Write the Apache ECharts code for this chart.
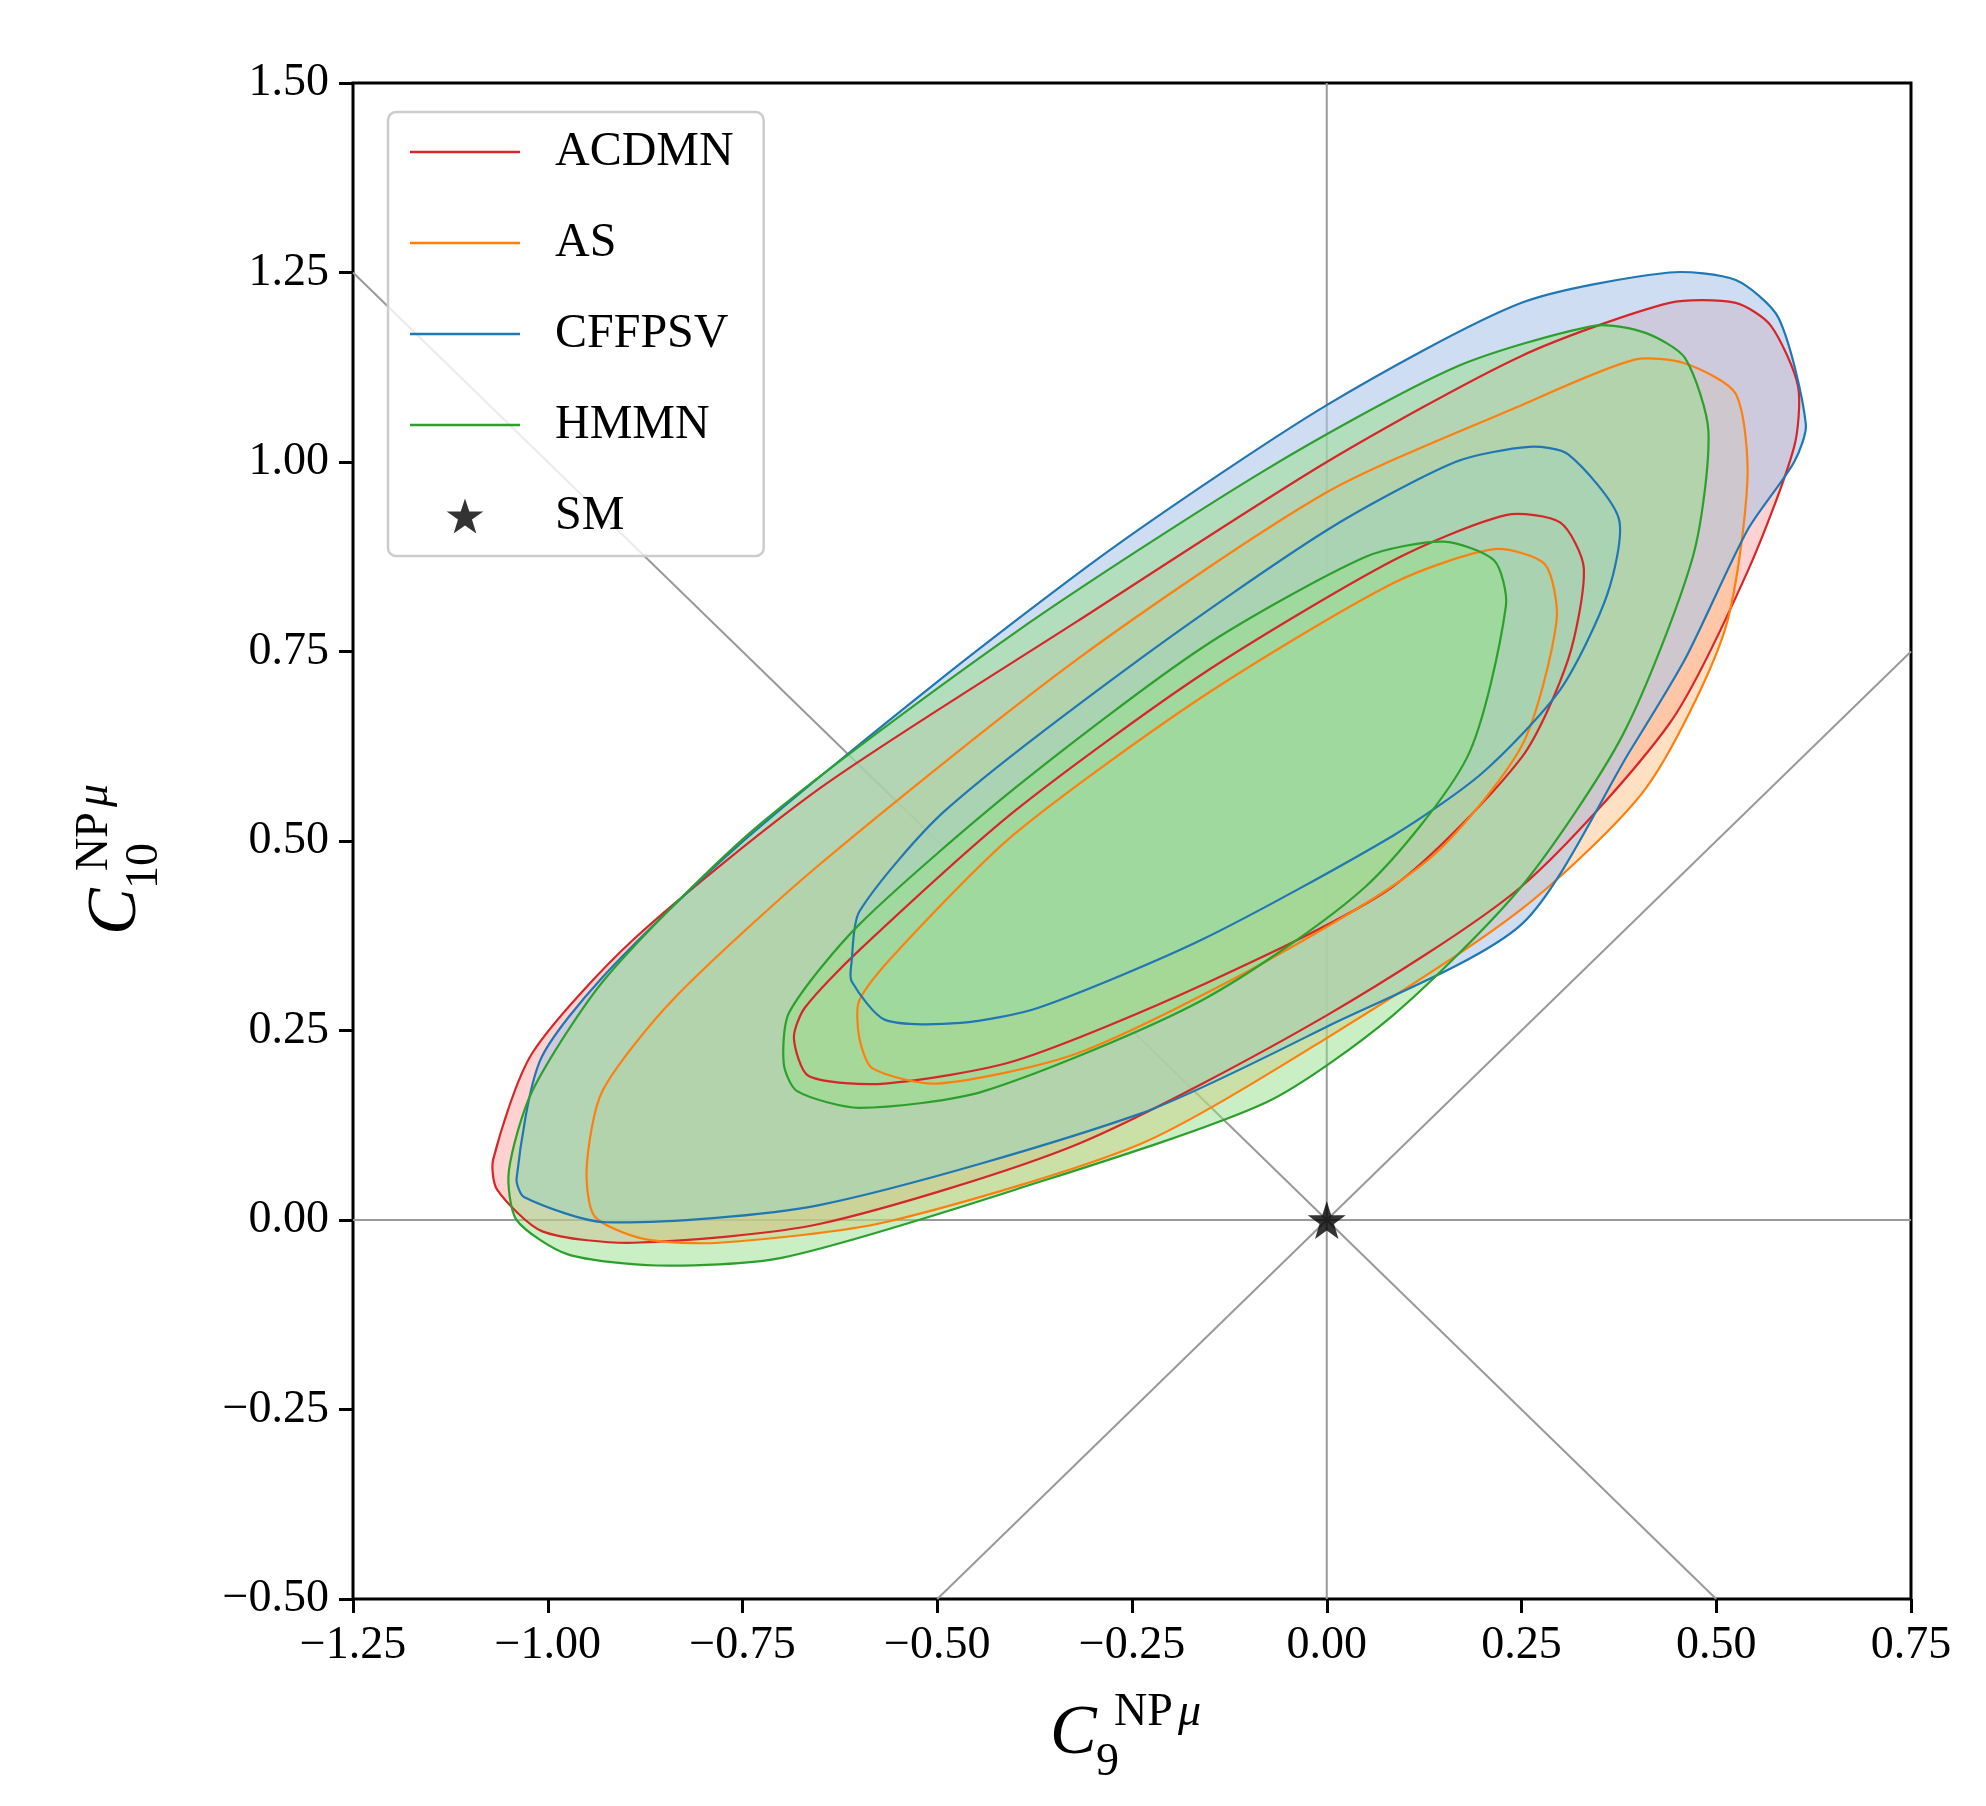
<!DOCTYPE html>
<html>
<head>
<meta charset="utf-8">
<script src="https://cdn.jsdelivr.net/npm/echarts@6/dist/echarts.min.js"></script>
<style>html,body{margin:0;padding:0;background:#fff}#main{width:1986px;height:1806px}</style>
</head>
<body>
<div id="main"></div>
<script>
// contour polygons, [C9, C10]
var acdmnOuter = [[-1.07,0.08],[-1.065,0.04],[-1.007,-0.015],[-0.89,-0.03],[-0.65,-0.005],[-0.32,0.10],[0.0,0.27],[0.25,0.44],[0.44,0.655],[0.54,0.855],[0.60,1.02],[0.605,1.1],[0.57,1.18],[0.525,1.21],[0.44,1.21],[0.25,1.14],[0.0,1.0],[-0.32,0.79],[-0.65,0.57],[-0.89,0.37],[-1.02,0.22]];
var acdmnInner = [[-0.684,0.24],[-0.665,0.19],[-0.567,0.18],[-0.40,0.21],[-0.16,0.31],[0.085,0.44],[0.25,0.61],[0.31,0.74],[0.33,0.86],[0.30,0.92],[0.23,0.93],[0.085,0.87],[-0.16,0.72],[-0.40,0.54],[-0.60,0.356],[-0.67,0.28]];
var asOuter = [[-0.95,0.07],[-0.94,0.005],[-0.877,-0.025],[-0.78,-0.03],[-0.567,-0.003],[-0.24,0.10],[0.0,0.24],[0.25,0.41],[0.41,0.57],[0.51,0.775],[0.54,0.975],[0.525,1.09],[0.46,1.13],[0.395,1.135],[0.25,1.075],[0.0,0.96],[-0.32,0.74],[-0.65,0.47],[-0.84,0.29],[-0.93,0.17]];
var asInner = [[-0.60,0.24],[-0.583,0.20],[-0.50,0.18],[-0.32,0.22],[-0.08,0.34],[0.13,0.475],[0.25,0.625],[0.295,0.79],[0.28,0.865],[0.215,0.885],[0.085,0.84],[-0.16,0.69],[-0.40,0.51],[-0.55,0.356],[-0.60,0.29]];
var cffpsvOuter = [[-1.04,0.055],[-1.03,0.03],[-0.926,-0.003],[-0.65,0.02],[-0.24,0.14],[0.0,0.255],[0.25,0.39],[0.39,0.62],[0.46,0.74],[0.54,0.91],[0.60,1.0],[0.615,1.05],[0.58,1.19],[0.525,1.24],[0.44,1.25],[0.25,1.21],[0.0,1.075],[-0.27,0.89],[-0.50,0.71],[-0.76,0.49],[-0.93,0.32],[-1.01,0.21]];
var cffpsvInner = [[-0.61,0.315],[-0.567,0.264],[-0.47,0.26],[-0.37,0.28],[-0.16,0.37],[0.085,0.507],[0.20,0.59],[0.30,0.70],[0.36,0.825],[0.375,0.925],[0.31,1.01],[0.26,1.02],[0.165,1.0],[0.0,0.91],[-0.24,0.74],[-0.49,0.54],[-0.60,0.407],[-0.61,0.34]];
var hmmnOuter = [[-1.05,0.064],[-1.04,0.0],[-0.975,-0.045],[-0.86,-0.06],[-0.70,-0.05],[-0.40,0.04],[-0.078,0.155],[0.085,0.27],[0.25,0.44],[0.38,0.64],[0.47,0.875],[0.49,1.04],[0.46,1.137],[0.41,1.17],[0.345,1.18],[0.165,1.125],[-0.078,0.99],[-0.40,0.775],[-0.73,0.52],[-0.925,0.32],[-1.02,0.17]];
var hmmnInner = [[-0.697,0.206],[-0.68,0.17],[-0.60,0.148],[-0.44,0.17],[-0.16,0.29],[0.05,0.44],[0.18,0.61],[0.23,0.81],[0.215,0.87],[0.15,0.895],[0.05,0.875],[-0.16,0.755],[-0.40,0.57],[-0.60,0.39],[-0.69,0.274]];
var smPoint = [[0, 0]];
var diagDown = [[-1.25, 1.25], [0.5, -0.5]];
var diagUp = [[-0.5, -0.5], [0.75, 0.75]];
var vLine = [[0, -0.5], [0, 1.5]];
var hLine = [[-1.25, 0], [0.75, 0]];
var xTicks = [-1.25, 0.75, 0.25];
var yTicks = [-0.5, 1.5, 0.25];

var models = [
  { name: 'ACDMN', line: '#d62728', fill: 'rgba(255,152,150,0.45)', polys: [acdmnOuter, acdmnInner] },
  { name: 'AS', line: '#ff7f0e', fill: 'rgba(255,187,120,0.45)', polys: [asOuter, asInner] },
  { name: 'CFFPSV', line: '#1f77b4', fill: 'rgba(174,199,232,0.6)', polys: [cffpsvOuter, cffpsvInner] },
  { name: 'HMMN', line: '#2ca02c', fill: 'rgba(152,223,138,0.5)', polys: [hmmnOuter, hmmnInner] }
];
var starShape = 'M50,0 L61.8,35.4 L100,35.4 L69.1,57.3 L80.9,95.1 L50,73.6 L19.1,95.1 L30.9,57.3 L0,35.4 L38.2,35.4 Z';
var starPath = 'path://' + starShape;
// padded versions so the legend keeps shapes undistorted
var legendStar = 'path://M-100,0 L-99.9,0 L-99.9,0.1 Z M200,95 L199.9,95 L199.9,94.9 Z ' + starShape;
var legendLine = 'path://M0,0 L0.1,0 L0.1,0.1 Z M0,36 L0.1,36 L0.1,35.9 Z M0,16.8 L110,16.8 L110,19.2 L0,19.2 Z';
var font = '"Liberation Serif", "DejaVu Serif", serif';

function fmt(v) {
  var s = Math.abs(v).toFixed(2);
  return (v < 0 ? '\u2212' : '') + s;
}

function guide(data) {
  return {
    type: 'line', data: data, symbol: 'none', silent: true, z: 1,
    lineStyle: { color: '#999', width: 2 }
  };
}

function polySeries(m, poly, mode) {
  return {
    type: 'custom', name: m.name, data: poly, z: mode === 'fill' ? 2 : 3,
    itemStyle: { color: m.line },
    renderItem: function (params, api) {
      if (params.dataIndex !== 0) return;
      var pts = poly.map(function (p) { return api.coord(p); });
      return {
        type: 'polygon',
        shape: { points: pts, smooth: 0.25 },
        style: mode === 'fill' ? { fill: m.fill, stroke: null } : { fill: null, stroke: m.line, lineWidth: 2.2 }
      };
    }
  };
}

var series = [guide(vLine), guide(hLine), guide(diagDown), guide(diagUp)];
models.forEach(function (m) {
  m.polys.forEach(function (poly) { series.push(polySeries(m, poly, 'fill')); });
});
models.forEach(function (m) {
  m.polys.forEach(function (poly) { series.push(polySeries(m, poly, 'line')); });
});
series.push({
  type: 'scatter', name: 'SM', data: smPoint, symbol: starPath, symbolSize: 38, z: 5,
  itemStyle: { color: '#000' }
});

var chart = echarts.init(document.getElementById('main'));
chart.setOption({
  animation: false,
  grid: { left: 353, right: 75, top: 83, bottom: 207, show: true, borderColor: '#000', borderWidth: 3 },
  legend: {
    orient: 'vertical', left: 388, top: 112,
    padding: [16, 30, 16, 22], itemGap: 43,
    borderColor: '#ccc', borderWidth: 2.5, borderRadius: 8, backgroundColor: 'rgba(255,255,255,0.8)',
    itemWidth: 110, itemHeight: 36,
    textStyle: { fontFamily: font, fontSize: 48, color: '#000', padding: [0, 0, 0, 30] },
    data: models.map(function (m) { return { name: m.name, icon: legendLine }; })
      .concat([{ name: 'SM', icon: legendStar, itemStyle: { color: '#000' } }])
  },
  xAxis: {
    type: 'value', min: xTicks[0], max: xTicks[1], interval: xTicks[2],
    axisLine: { show: false, onZero: false }, splitLine: { show: false },
    axisTick: { inside: false, length: 14, lineStyle: { color: '#000', width: 3 } },
    axisLabel: { formatter: fmt, fontFamily: font, fontSize: 46, color: '#000', margin: 24 }
  },
  yAxis: {
    type: 'value', min: yTicks[0], max: yTicks[1], interval: yTicks[2],
    axisLine: { show: false, onZero: false }, splitLine: { show: false },
    axisTick: { inside: false, length: 14, lineStyle: { color: '#000', width: 3 } },
    axisLabel: { formatter: fmt, fontFamily: font, fontSize: 46, color: '#000', margin: 24 }
  },
  graphic: [
    { type: 'group', left: 1050, top: 1690, children: [
      { type: 'text', x: 0, y: 10, style: { text: 'C', font: 'italic 70px ' + font, fill: '#000' } },
      { type: 'text', x: 46, y: 50, style: { text: '9', font: '46px ' + font, fill: '#000' } },
      { type: 'text', x: 64, y: 0, style: { text: 'NP', font: '46px ' + font, fill: '#000' } },
      { type: 'text', x: 128, y: 0, style: { text: '\u03bc', font: 'italic 46px ' + font, fill: '#000' } }
    ] },
    { type: 'group', x: 72, y: 935, rotation: Math.PI / 2, children: [
      { type: 'text', x: 0, y: 10, style: { text: 'C', font: 'italic 70px ' + font, fill: '#000' } },
      { type: 'text', x: 46, y: 50, style: { text: '10', font: '46px ' + font, fill: '#000' } },
      { type: 'text', x: 64, y: 0, style: { text: 'NP', font: '46px ' + font, fill: '#000' } },
      { type: 'text', x: 128, y: 0, style: { text: '\u03bc', font: 'italic 46px ' + font, fill: '#000' } }
    ] }
  ],
  series: series
});
</script>
</body>
</html>
